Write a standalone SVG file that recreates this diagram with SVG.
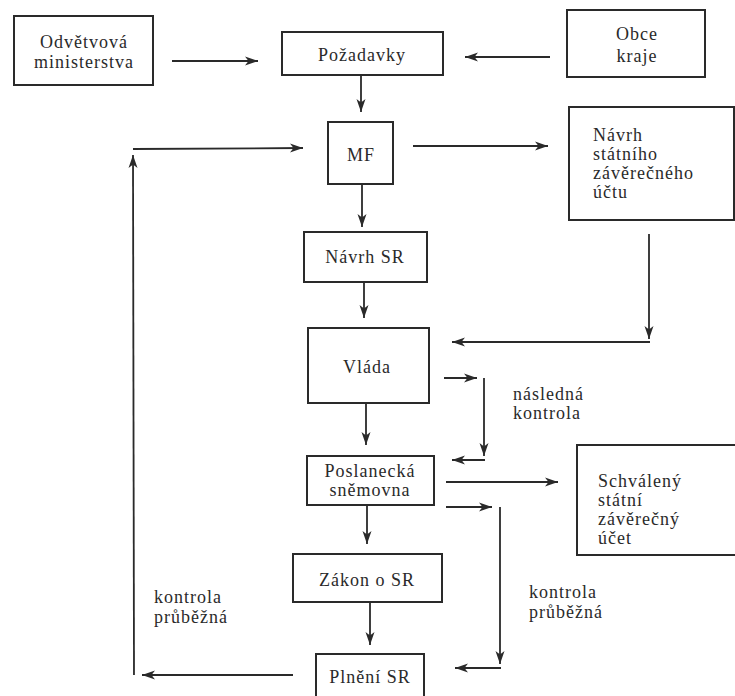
<svg xmlns="http://www.w3.org/2000/svg" width="735" height="696" viewBox="0 0 735 696">
<defs>
<marker id="ah" markerUnits="userSpaceOnUse" markerWidth="14" markerHeight="10" refX="13" refY="5" orient="auto">
<path d="M0,0.5 L13,5 L0,9.5 L3.5,5 z" fill="#2a2a2a"/>
</marker>
<style>
rect{fill:#fff;stroke:#2a2a2a;stroke-width:2}
text{font-family:'Liberation Serif','Times New Roman','DejaVu Serif',serif;font-size:18px;letter-spacing:1px;fill:#2a2a2a}
.c{text-anchor:middle}
#connectors line{stroke:#2a2a2a;stroke-width:1.8;fill:none}
.a{marker-end:url(#ah)}
</style>
</defs>
<rect x="0" y="0" width="735" height="696" style="fill:#fff;stroke:none"/>
<g id="connectors">
<line class="a" x1="172" y1="61" x2="258" y2="61"/>
<line class="a" x1="550" y1="57" x2="465" y2="57"/>
<line class="a" x1="361" y1="75" x2="361" y2="112"/>
<line class="a" x1="413" y1="146" x2="548" y2="146"/>
<line class="a" x1="362" y1="184" x2="362" y2="227"/>
<line class="a" x1="364" y1="282" x2="364" y2="318"/>
<line class="a" x1="649" y1="234" x2="649" y2="339"/>
<line class="a" x1="650" y1="342" x2="452" y2="342"/>
<line class="a" x1="366" y1="403" x2="366" y2="445"/>
<line class="a" x1="444" y1="378" x2="477" y2="378"/>
<line class="a" x1="484" y1="378" x2="484" y2="456"/>
<line class="a" x1="485" y1="460" x2="452" y2="460"/>
<line class="a" x1="446" y1="482" x2="558" y2="482"/>
<line class="a" x1="367" y1="505" x2="367" y2="544"/>
<line class="a" x1="446" y1="507" x2="492" y2="507"/>
<line class="a" x1="500" y1="507" x2="500" y2="664"/>
<line class="a" x1="501" y1="668" x2="455" y2="668"/>
<line class="a" x1="370" y1="602" x2="370" y2="645"/>
<line class="a" x1="293" y1="675" x2="142" y2="675"/>
<line class="a" x1="134" y1="675" x2="133" y2="155"/>
<line class="a" x1="133" y1="149" x2="303" y2="148"/>
</g>
<g id="n-odvetvova"><rect x="14" y="16" width="139" height="69"/><text class="c" x="84" y="48">Odvětvová</text><text class="c" x="84" y="68">ministerstva</text></g>
<g id="n-pozadavky"><rect x="282" y="32" width="161" height="43"/><text class="c" x="362" y="61">Požadavky</text></g>
<g id="n-obce"><rect x="567" y="10" width="138" height="67"/><text class="c" x="637" y="40">Obce</text><text class="c" x="637" y="62">kraje</text></g>
<g id="n-mf"><rect x="328" y="122" width="65" height="62"/><text class="c" x="361" y="161">MF</text></g>
<g id="n-navrh-zu"><rect x="569" y="107" width="165" height="113"/><text x="593" y="141">Návrh</text><text x="593" y="160">státního</text><text x="593" y="179">závěrečného</text><text x="593" y="198">účtu</text></g>
<g id="n-navrh-sr"><rect x="304" y="232" width="123" height="50"/><text class="c" x="365" y="263">Návrh SR</text></g>
<g id="n-vlada"><rect x="308" y="328" width="121" height="75"/><text class="c" x="367" y="373">Vláda</text></g>
<g id="n-poslanecka"><rect x="307" y="456" width="127" height="49"/><text class="c" x="370" y="477">Poslanecká</text><text class="c" x="370" y="496">sněmovna</text></g>
<g id="n-schvaleny"><rect x="577" y="445" width="170" height="110"/><text x="598" y="487">Schválený</text><text x="598" y="506">státní</text><text x="598" y="525">závěrečný</text><text x="598" y="544">účet</text></g>
<g id="n-zakon"><rect x="293" y="554" width="149" height="48"/><text class="c" x="367" y="586">Zákon o SR</text></g>
<g id="n-plneni"><rect x="316" y="654" width="108" height="50"/><text class="c" x="370" y="683">Plnění SR</text></g>
<g id="labels">
<text x="513" y="400">následná</text><text x="513" y="419">kontrola</text>
<text x="529" y="598">kontrola</text><text x="529" y="618">průběžná</text>
<text x="154" y="603">kontrola</text><text x="154" y="623">průběžná</text>
</g>
</svg>
